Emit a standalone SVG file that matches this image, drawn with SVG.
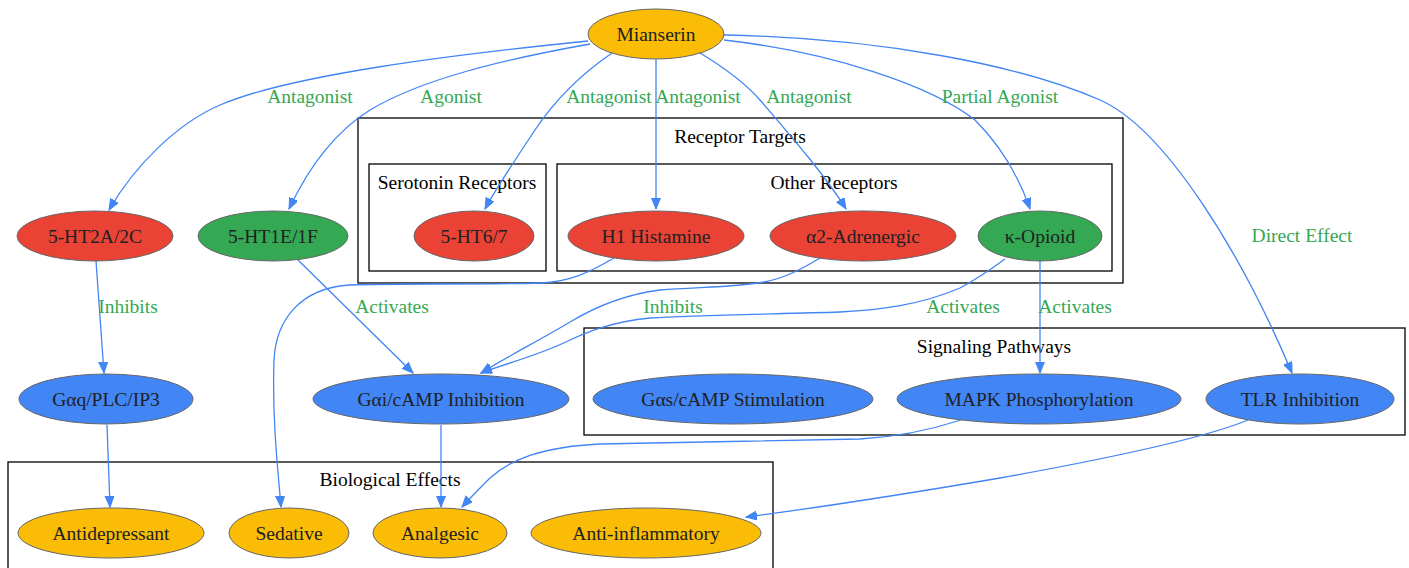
<svg xmlns="http://www.w3.org/2000/svg" width="1409" height="568" viewBox="0 0 1409 568">
<style>
text{font-family:"Liberation Serif","Times New Roman",serif;font-size:19.5px;text-anchor:middle}
.n{stroke:#666;stroke-width:1}
.y{fill:#fbbc05}.r{fill:#ea4335}.g{fill:#34a853}.b{fill:#4285f4}
.nt{fill:#202124}
.cl{fill:none;stroke:#000;stroke-width:1.3}
.ct{fill:#000}
.e{fill:none;stroke:#4285f4;stroke-width:1.3}
.el{fill:#34a853}
</style>
<defs>
<marker id="ah" markerUnits="userSpaceOnUse" markerWidth="12" markerHeight="10" refX="11" refY="4.5" orient="auto">
<path d="M0,0 L11,4.5 L0,9 Z" fill="#4285f4" stroke="#4285f4" stroke-width="1"/>
</marker>
</defs>
<g id="clusters">
<rect class="cl" x="358" y="118" width="765" height="165"/>
<text class="ct" x="740" y="143">Receptor Targets</text>
<rect class="cl" x="369" y="164" width="177" height="107"/>
<text class="ct" x="457" y="189">Serotonin Receptors</text>
<rect class="cl" x="557" y="164" width="555" height="107"/>
<text class="ct" x="834" y="189">Other Receptors</text>
<rect class="cl" x="584" y="328" width="821" height="107"/>
<text class="ct" x="994" y="353">Signaling Pathways</text>
<rect class="cl" x="8" y="462" width="765" height="110"/>
<text class="ct" x="390" y="486">Biological Effects</text>
</g>
<g id="edges">
<path class="e" marker-end="url(#ah)" d="M588,41 C450,55 290,75 220,105 C178,123 135,165 109,210"/>
<path class="e" marker-end="url(#ah)" d="M590,44 C500,60 420,80 370,110 C330,135 305,175 289,209"/>
<path class="e" marker-end="url(#ah)" d="M612,53 C580,75 555,100 535,130 C515,160 495,190 485,209"/>
<path class="e" marker-end="url(#ah)" d="M656,59 L656,209"/>
<path class="e" marker-end="url(#ah)" d="M700,53 C725,68 745,83 760,100 C790,135 825,175 846,209"/>
<path class="e" marker-end="url(#ah)" d="M724,40 C830,52 930,85 975,120 C1005,150 1020,180 1030,209"/>
<path class="e" marker-end="url(#ah)" d="M724,35 C880,38 1020,65 1100,100 C1164,128 1240,250 1292,373"/>
<path class="e" marker-end="url(#ah)" d="M96,261 L104,373"/>
<path class="e" marker-end="url(#ah)" d="M297,259 L413,373"/>
<path class="e" marker-end="url(#ah)" d="M614,258 C590,272 570,282 540,283 C480,285 400,283 350,285 C300,288 276,320 274,360 C272,420 278,470 281,507"/>
<path class="e" marker-end="url(#ah)" d="M820,258 C800,270 785,278 764,282 C740,287 700,287 660,290 C620,295 590,310 570,322 C540,340 510,355 481,373"/>
<path class="e" marker-end="url(#ah)" d="M1005,259 C990,270 975,280 960,288 C920,305 880,310 840,312 C780,314 700,315 650,318 C610,322 585,333 570,340 C540,355 510,362 481,373"/>
<path class="e" marker-end="url(#ah)" d="M1040,261 L1040,373"/>
<path class="e" marker-end="url(#ah)" d="M107,425 L110,507"/>
<path class="e" marker-end="url(#ah)" d="M441,425 L441,507"/>
<path class="e" marker-end="url(#ah)" d="M961,420 C930,430 900,437 860,439 C780,441 680,442 600,444 C540,447 510,460 490,478 C478,490 470,498 462,507"/>
<path class="e" marker-end="url(#ah)" d="M1248,420 C1200,440 1100,460 1000,478 C900,495 800,510 746,517"/>
</g>
<g id="edge-labels">
<text class="el" x="310" y="103">Antagonist</text>
<text class="el" x="451" y="103">Agonist</text>
<text class="el" x="609" y="103">Antagonist</text>
<text class="el" x="698" y="103">Antagonist</text>
<text class="el" x="809" y="103">Antagonist</text>
<text class="el" x="1000" y="103">Partial Agonist</text>
<text class="el" x="1302" y="242">Direct Effect</text>
<text class="el" x="128" y="313">Inhibits</text>
<text class="el" x="392" y="313">Activates</text>
<text class="el" x="673" y="313">Inhibits</text>
<text class="el" x="963" y="313">Activates</text>
<text class="el" x="1075" y="313">Activates</text>
</g>
<g id="mianserin"><ellipse class="n y" cx="656" cy="34" rx="68" ry="25"/><text class="nt" x="656" y="41">Mianserin</text></g>
<g id="ht2a"><ellipse class="n r" cx="95" cy="236" rx="78" ry="25"/><text class="nt" x="95" y="243">5-HT2A/2C</text></g>
<g id="ht1e"><ellipse class="n g" cx="273" cy="236" rx="75" ry="25"/><text class="nt" x="273" y="243">5-HT1E/1F</text></g>
<g id="ht6"><ellipse class="n r" cx="474" cy="236" rx="60" ry="25"/><text class="nt" x="474" y="243">5-HT6/7</text></g>
<g id="h1"><ellipse class="n r" cx="656" cy="236" rx="88" ry="25"/><text class="nt" x="656" y="243">H1 Histamine</text></g>
<g id="alpha2"><ellipse class="n r" cx="863" cy="236" rx="93" ry="25"/><text class="nt" x="863" y="243">α2-Adrenergic</text></g>
<g id="kappa"><ellipse class="n g" cx="1040" cy="236" rx="62" ry="25"/><text class="nt" x="1040" y="243">κ-Opioid</text></g>
<g id="gq"><ellipse class="n b" cx="106" cy="399" rx="87" ry="25"/><text class="nt" x="106" y="406">Gαq/PLC/IP3</text></g>
<g id="gi"><ellipse class="n b" cx="441" cy="399" rx="128" ry="25"/><text class="nt" x="441" y="406">Gαi/cAMP Inhibition</text></g>
<g id="gs"><ellipse class="n b" cx="733" cy="399" rx="140" ry="25"/><text class="nt" x="733" y="406">Gαs/cAMP Stimulation</text></g>
<g id="mapk"><ellipse class="n b" cx="1039" cy="399" rx="142" ry="25"/><text class="nt" x="1039" y="406">MAPK Phosphorylation</text></g>
<g id="tlr"><ellipse class="n b" cx="1300" cy="399" rx="94" ry="25"/><text class="nt" x="1300" y="406">TLR Inhibition</text></g>
<g id="antidep"><ellipse class="n y" cx="111" cy="533" rx="93" ry="25"/><text class="nt" x="111" y="540">Antidepressant</text></g>
<g id="sedative"><ellipse class="n y" cx="289" cy="533" rx="60" ry="25"/><text class="nt" x="289" y="540">Sedative</text></g>
<g id="analgesic"><ellipse class="n y" cx="440" cy="533" rx="67" ry="25"/><text class="nt" x="440" y="540">Analgesic</text></g>
<g id="antiinf"><ellipse class="n y" cx="646" cy="533" rx="115" ry="25"/><text class="nt" x="646" y="540">Anti-inflammatory</text></g>
</svg>
